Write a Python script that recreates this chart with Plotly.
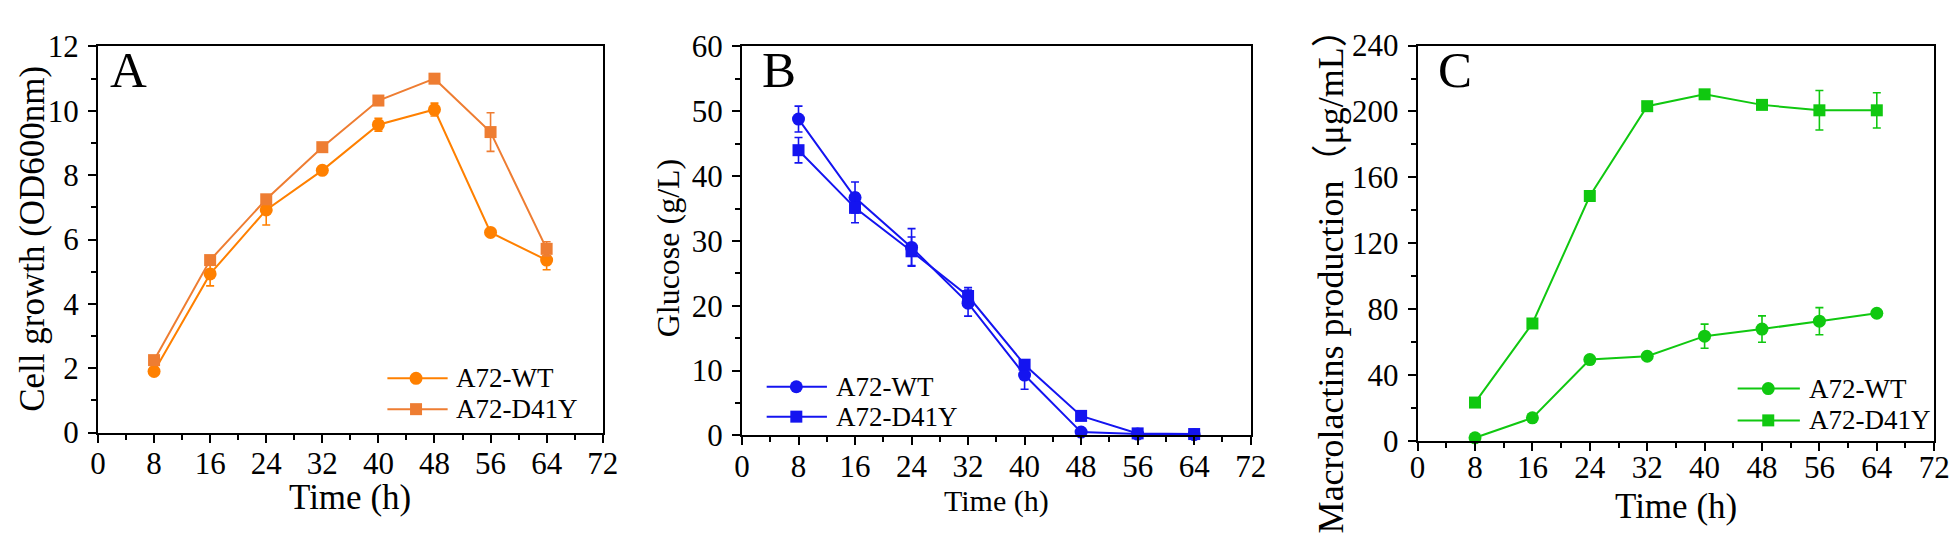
import plotly.graph_objects as go

# ---------------- data ----------------
time_h = [8, 16, 24, 32, 40, 48, 56, 64]

od_wt = [1.9, 4.93, 6.92, 8.15, 9.57, 10.04, 6.22, 5.36]
od_wt_err = [0.08, 0.37, 0.47, 0.12, 0.2, 0.2, 0.08, 0.3]
od_d41y = [2.25, 5.36, 7.25, 8.87, 10.32, 11.0, 9.34, 5.71]
od_d41y_err = [0.08, 0.1, 0.12, 0.1, 0.1, 0.08, 0.6, 0.22]

glc_wt = [48.8, 36.7, 29.0, 20.4, 9.3, 0.5, 0.2, 0.1]
glc_wt_err = [2.0, 2.4, 2.9, 2.0, 2.2, 0.2, 0.1, 0.1]
glc_d41y = [44.0, 35.1, 28.4, 21.5, 10.9, 3.0, 0.3, 0.2]
glc_d41y_err = [1.95, 2.3, 2.2, 1.3, 0.6, 0.2, 0.1, 0.1]

mac_wt = [1.9, 14.0, 49.4, 51.4, 63.6, 67.9, 72.7, 77.5]
mac_wt_err = [1.0, 1.5, 1.5, 2.0, 7.3, 8.0, 8.2, 1.5]
mac_d41y = [23.3, 71.3, 148.7, 203.2, 210.4, 204.0, 200.7, 200.7]
mac_d41y_err = [1.5, 2.0, 2.0, 1.5, 2.0, 2.0, 12.0, 10.7]

series_names = ["A72-WT", "A72-D41Y"]
panel_letters = ["A", "B", "C"]
x_title = "Time (h)"
y_titles = ["Cell growth (OD600nm)", "Glucose (g/L)", "Macrolactins production（μg/mL）"]

# ---------------- style ----------------
W, H = 1958, 536
FONT = "Liberation Serif, Times New Roman, Noto Sans CJK SC, serif"
ORANGE_WT, ORANGE_D = "#FF8000", "#EE7D32"
BLUE = "#1414F0"
GREEN = "#10C810"


def px(x):
    return x / W


def py(y):
    return 1 - y / H


fig = go.Figure()

panels = [
    dict(x="x", y="y", wt=od_wt, wte=od_wt_err, d=od_d41y, de=od_d41y_err,
         cw=ORANGE_WT, cd=ORANGE_D,
         leg=dict(rows=(378, 411), line=(376, 437), mark=405, text=443)),
    dict(x="x2", y="y2", wt=glc_wt, wte=glc_wt_err, d=glc_d41y, de=glc_d41y_err,
         cw=BLUE, cd=BLUE,
         leg=dict(rows=(387, 419), line=(760, 821), mark=790, text=828)),
    dict(x="x3", y="y3", wt=mac_wt, wte=mac_wt_err, d=mac_d41y, de=mac_d41y_err,
         cw=GREEN, cd=GREEN,
         leg=dict(rows=(389, 423), line=(1743, 1806), mark=1774, text=1813)),
]

for p in panels:
    fig.add_trace(go.Scatter(
        x=time_h, y=p["wt"], name=series_names[0], xaxis=p["x"], yaxis=p["y"],
        mode="lines+markers", cliponaxis=False, showlegend=False,
        line=dict(color=p["cw"], width=2),
        marker=dict(symbol="circle", size=13, color=p["cw"]),
        error_y=dict(type="data", array=p["wte"], color=p["cw"], thickness=1.6, width=4),
    ))
    fig.add_trace(go.Scatter(
        x=time_h, y=p["d"], name=series_names[1], xaxis=p["x"], yaxis=p["y"],
        mode="lines+markers", cliponaxis=False, showlegend=False,
        line=dict(color=p["cd"], width=2),
        marker=dict(symbol="square", size=12, color=p["cd"]),
        error_y=dict(type="data", array=p["de"], color=p["cd"], thickness=1.6, width=4),
    ))

domains = [
    ([px(83), px(594)], [py(436), py(23)]),
    ([px(735), px(1250)], [py(439), py(23)]),
    ([px(1419), px(1942)], [py(445), py(22)]),
]
yranges = [(12, 2, 1), (60, 10, 5), (240, 40, 20)]
x_standoffs = [-6, -6, -10]

axis_common = dict(
    showgrid=False, zeroline=False, showline=True, linecolor="black", linewidth=2,
    mirror=True, ticks="outside", ticklen=8, tickwidth=2, tickcolor="black",
    tickfont=dict(family=FONT, size=31, color="black"),
)

layout = {}
for i, ((xd, yd), (ymax, ydt, ymin), xso) in enumerate(zip(domains, yranges, x_standoffs)):
    s = "" if i == 0 else str(i + 1)
    layout["xaxis" + s] = dict(
        axis_common, domain=xd, range=[0, 72], dtick=8, tick0=0,
        anchor="y" + s, ticklabelstandoff=xso,
        minor=dict(ticks="outside", dtick=4, ticklen=5, tickwidth=2, tickcolor="black"),
    )
    layout["yaxis" + s] = dict(
        axis_common, domain=yd, range=[0, ymax], dtick=ydt, tick0=0,
        anchor="x" + s, ticklabelstandoff=3,
        minor=dict(ticks="outside", dtick=ymin, ticklen=5, tickwidth=2, tickcolor="black"),
    )

annotations = []
shapes = []

# x titles
for cx, cy, size in [(338, 506, 35), (993, 509, 30), (1681, 515, 35)]:
    annotations.append(dict(text=x_title, x=px(cx), y=py(cy), xref="paper", yref="paper",
                            showarrow=False, xanchor="center", yanchor="middle",
                            font=dict(family=FONT, size=size, color="black")))
# y titles
for t, cx, cy, size in zip(y_titles, [16, 661, 1331], [229, 238, 265], [35, 32, 36]):
    annotations.append(dict(text=t, x=px(cx), y=py(cy), xref="paper", yref="paper",
                            showarrow=False, xanchor="center", yanchor="middle", textangle=-90,
                            font=dict(family=FONT, size=size, color="black")))
# panel letters
for t, lx, ly in zip(panel_letters, [93, 753, 1438], [48, 48, 48]):
    annotations.append(dict(text=t, x=px(lx), y=py(ly), xref="paper", yref="paper",
                            showarrow=False, xanchor="left", yanchor="middle",
                            font=dict(family=FONT, size=51, color="black")))

# custom legends (long line sample + marker + label, as in the reference)
for p in panels:
    lg = p["leg"]
    for k, (name, col, shp) in enumerate(zip(series_names, [p["cw"], p["cd"]], ["circle", "rect"])):
        yy = py(lg["rows"][k])
        shapes.append(dict(type="line", xref="paper", yref="paper",
                           x0=px(lg["line"][0]), x1=px(lg["line"][1]), y0=yy, y1=yy,
                           line=dict(color=col, width=2)))
        half = 6.5 if shp == "circle" else 6
        shapes.append(dict(type=shp, xref="paper", yref="paper",
                           xsizemode="pixel", ysizemode="pixel",
                           xanchor=px(lg["mark"]), yanchor=yy,
                           x0=-half, x1=half, y0=-half, y1=half,
                           fillcolor=col, line=dict(color=col, width=0)))
        annotations.append(dict(text=name, x=px(lg["text"]), y=yy, xref="paper", yref="paper",
                                showarrow=False, xanchor="left", yanchor="middle",
                                font=dict(family=FONT, size=27, color="black")))

fig.update_layout(
    **layout,
    annotations=annotations,
    shapes=shapes,
    width=W, height=H,
    margin=dict(l=0, r=0, t=0, b=0),
    paper_bgcolor="white", plot_bgcolor="white",
    showlegend=False,
)

fig.write_html("out.html")
